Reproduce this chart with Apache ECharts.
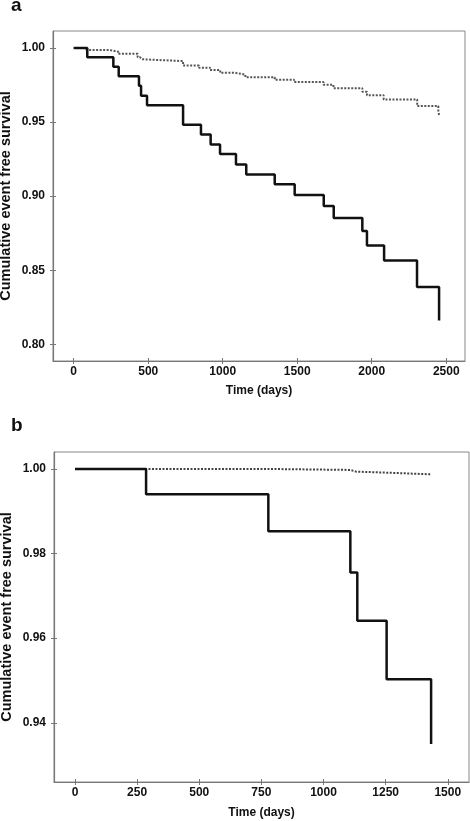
<!DOCTYPE html>
<html>
<head>
<meta charset="utf-8">
<script src="https://cdn.jsdelivr.net/npm/echarts@6/dist/echarts.min.js"></script>
<style>
html,body{margin:0;padding:0;background:#fff;}
#chart{width:470px;height:821px;}
</style>
</head>
<body>
<div id="chart"></div>
<script>
// Panel a
var xTicksA = [0, 500, 1000, 1500, 2000, 2500];
var yTicksA = [0.80, 0.85, 0.90, 0.95, 1.00];
var timesA_solid = [0, 91, 266, 302, 438, 452, 492, 734, 854, 919, 982, 1089, 1158, 1349, 1483, 1678, 1745, 1937, 1968, 2083, 2304, 2452];
var survA_solid  = [1.000, 0.9937, 0.9874, 0.9809, 0.9745, 0.9678, 0.9613, 0.9482, 0.9417, 0.9349, 0.9284, 0.9214, 0.9147, 0.9081, 0.9007, 0.8934, 0.8853, 0.8764, 0.8667, 0.8566, 0.8387, 0.8160];
var timesA_dot = [0, 85, 244, 299, 429, 445, 460, 734, 841, 915, 983, 1085, 1152, 1349, 1479, 1676, 1743, 1937, 1968, 2080, 2305, 2447, 2452];
var survA_dot  = [1.000, 0.9986, 0.9975, 0.9961, 0.9937, 0.9924, 0.9912, 0.9882, 0.9867, 0.9851, 0.9833, 0.9820, 0.9803, 0.9786, 0.9770, 0.9752, 0.9729, 0.9705, 0.9682, 0.9653, 0.9608, 0.9570, 0.9547];
// Panel b
var xTicksB = [0, 250, 500, 750, 1000, 1250, 1500];
var yTicksB = [0.94, 0.96, 0.98, 1.00];
var timesB_solid = [0, 286, 778, 1108, 1136, 1254, 1433];
var survB_solid  = [1.000, 0.9940, 0.98525, 0.9755, 0.9641, 0.9503, 0.9350];
var timesB_dot = [0, 771, 1107, 1131, 1248, 1435];
var survB_dot  = [1.000, 0.99976, 0.99936, 0.99913, 0.99872, 0.99872];

var yName = 'Cumulative event free survival';
var xName = 'Time (days)';
var FONT = '"Liberation Sans", Arial, sans-serif';

function pairs(t, s){ return t.map(function(v,i){ return [v, s[i]]; }); }

var axisCol = '#777';
function mainX(grid, min, max, ticks, gap){
  return {
    type:'value', gridIndex:grid, min:min, max:max, position:'bottom',
    name:xName, nameLocation:'middle', nameGap:gap, nameMoveOverlap:false,
    nameTextStyle:{fontFamily:FONT, fontWeight:'bold', fontSize:12, color:'#111'},
    axisLine:{show:true, onZero:false, lineStyle:{color:axisCol, width:1.2}},
    axisTick:{show:true, inside:false, length:3, lineStyle:{color:axisCol, width:1}, customValues:ticks},
    axisLabel:{show:true, margin:5, fontFamily:FONT, fontWeight:'bold', fontSize:12, color:'#111', customValues:ticks,
      formatter:function(v){ return String(v); }},
    splitLine:{show:false}
  };
}
function innerX(grid, min, max, ticks){
  return {
    type:'value', gridIndex:grid, min:min, max:max, position:'bottom',
    axisLine:{show:false, onZero:false}, axisLabel:{show:false}, splitLine:{show:false},
    axisTick:{show:true, inside:true, length:3, lineStyle:{color:axisCol, width:1}, customValues:ticks}
  };
}
function mainY(grid, min, max, ticks, dec){
  return {
    type:'value', gridIndex:grid, min:min, max:max, position:'left',
    name:yName, nameLocation:'middle', nameGap:40, nameRotate:90, nameMoveOverlap:false,
    nameTextStyle:{fontFamily:FONT, fontWeight:'bold', fontSize:14.5, color:'#111'},
    axisLine:{show:true, onZero:false, lineStyle:{color:axisCol, width:1.2}},
    axisTick:{show:true, inside:false, length:3, lineStyle:{color:axisCol, width:1}, customValues:ticks},
    axisLabel:{show:true, margin:8, fontFamily:FONT, fontWeight:'bold', fontSize:12, color:'#111', customValues:ticks,
      formatter:function(v){ return v.toFixed(dec); }},
    splitLine:{show:false}
  };
}
function innerY(grid, min, max, ticks){
  return {
    type:'value', gridIndex:grid, min:min, max:max, position:'left',
    axisLine:{show:false, onZero:false}, axisLabel:{show:false}, splitLine:{show:false},
    axisTick:{show:true, inside:true, length:3, lineStyle:{color:axisCol, width:1}, customValues:ticks}
  };
}

var chart = echarts.init(document.getElementById('chart'), null, {renderer:'canvas'});
chart.setOption({
  animation:false,
  backgroundColor:'#fff',
  title:[
    {text:'a', left:11, top:-4, padding:0, textStyle:{fontFamily:FONT, fontWeight:'bold', fontSize:19, color:'#111'}},
    {text:'b', left:11, top:416, padding:0, textStyle:{fontFamily:FONT, fontWeight:'bold', fontSize:19, color:'#111'}}
  ],
  grid:[
    {left:53, top:31, right:5, bottom:460, containLabel:false, outerBoundsMode:'none', show:true, borderColor:'#888', borderWidth:1, backgroundColor:'transparent'},
    {left:54, top:452, right:1, bottom:39, containLabel:false, outerBoundsMode:'none', show:true, borderColor:'#888', borderWidth:1, backgroundColor:'transparent'}
  ],
  xAxis:[
    mainX(0, -139, 2626, xTicksA, 24),
    innerX(0, -139, 2626, xTicksA),
    mainX(1, -84.5, 1585.5, xTicksB, 25),
    innerX(1, -84.5, 1585.5, xTicksB)
  ],
  yAxis:[
    mainY(0, 0.7887, 1.0115, yTicksA, 2),
    innerY(0, 0.7887, 1.0115, yTicksA),
    mainY(1, 0.926, 1.004, yTicksB, 2),
    innerY(1, 0.926, 1.004, yTicksB)
  ],
  series:[
    {type:'line', xAxisIndex:0, yAxisIndex:0, step:'end', symbol:'none', data:pairs(timesA_dot, survA_dot),
      lineStyle:{color:'#555', width:2, type:[2,1.5]}},
    {type:'line', xAxisIndex:0, yAxisIndex:0, step:'end', symbol:'none', data:pairs(timesA_solid, survA_solid),
      lineStyle:{color:'#111', width:2.5}},
    {type:'line', xAxisIndex:2, yAxisIndex:2, step:'end', symbol:'none', data:pairs(timesB_dot, survB_dot),
      lineStyle:{color:'#444', width:2, type:[2,1.5]}},
    {type:'line', xAxisIndex:2, yAxisIndex:2, step:'end', symbol:'none', data:pairs(timesB_solid, survB_solid),
      lineStyle:{color:'#111', width:2.5}}
  ]
});
</script>
</body>
</html>
